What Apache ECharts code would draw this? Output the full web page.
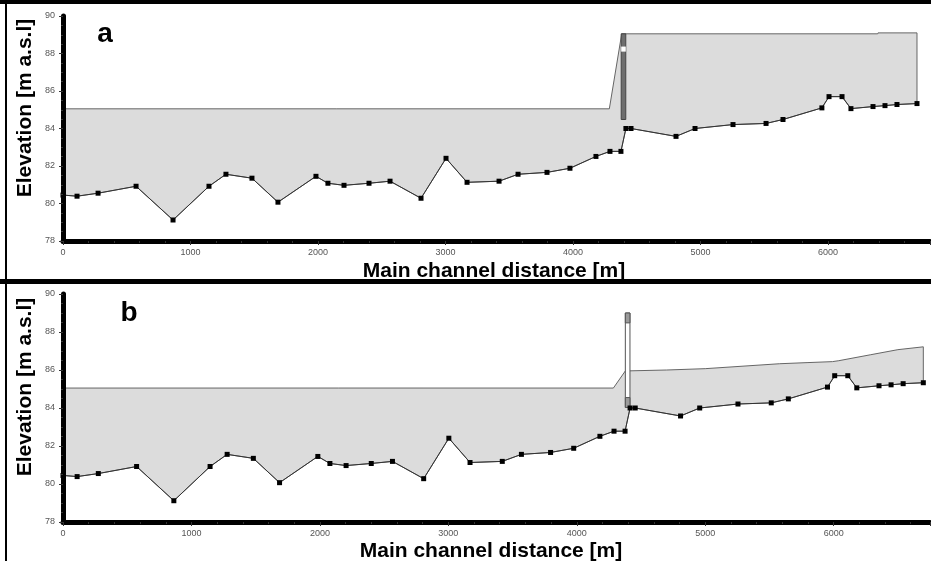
<!DOCTYPE html>
<html><head><meta charset="utf-8">
<script src="https://cdn.jsdelivr.net/npm/echarts@6/dist/echarts.min.js"></script>
<style>html,body{margin:0;padding:0;background:#fff}#c{width:931px;height:561px}</style>
</head><body><div id="c"></div>
<script>
// Bed profile (main channel thalweg)
const bedDist = [0, 110, 275, 573, 863, 1145, 1278, 1482, 1686, 1984, 2078, 2204, 2400, 2565, 2808, 3004, 3169, 3420, 3569, 3796, 3976, 4180, 4290, 4376, 4415, 4455, 4808, 4957, 5255, 5514, 5647, 5952, 6008, 6110, 6180, 6353, 6447, 6541, 6698];
const bedElev = [80.45, 80.39, 80.55, 80.92, 79.12, 80.92, 81.56, 81.35, 80.07, 81.45, 81.08, 80.97, 81.08, 81.19, 80.28, 82.41, 81.13, 81.19, 81.56, 81.66, 81.88, 82.51, 82.78, 82.78, 84.0, 84.0, 83.58, 84.0, 84.21, 84.27, 84.48, 85.1, 85.7, 85.7, 85.06, 85.17, 85.22, 85.28, 85.33];
// Water surface, panel a (gate closed)
const waterDistA = [0, 4285, 4382, 6390, 6392, 6698];
const waterElevA = [85.05, 85.05, 89.05, 89.05, 89.1, 89.1];
// Water surface, panel b (gate open)
const waterDistB = [0, 4285, 4378, 4700, 5000, 5580, 5800, 5990, 6040, 6285, 6500, 6698];
const waterElevB = [85.05, 85.05, 85.95, 86.0, 86.07, 86.33, 86.39, 86.44, 86.49, 86.8, 87.07, 87.22];
// Weir structure
const weirDist = [4378, 4414];
const gateA = [84.48, 89.05];
const slotA = [88.1, 88.37];
const weirB = [84.03, 89.0];
const capTopB = [88.48, 89.0];
const capBotB = [84.03, 84.55];
const xMax = [6800, 6750];
const yRange = [78, 90];

const chart = echarts.init(document.getElementById('c'), null, {renderer: 'canvas'});

function fillSeries(g, wd, we) {
  return {
    type: 'custom', xAxisIndex: g, yAxisIndex: g, data: [[wd[0], we[0]]], z: 1, silent: true, animation: false,
    renderItem: function (params, api) {
      const pts = [];
      for (let i = 0; i < wd.length; i++) pts.push(api.coord([wd[i], we[i]]));
      for (let i = bedDist.length - 1; i >= 0; i--) pts.push(api.coord([bedDist[i], bedElev[i]]));
      return {type: 'polygon', shape: {points: pts}, style: {fill: '#dcdcdc', stroke: '#666', lineWidth: 1}};
    }
  };
}
function rectFrom(api, x0, x1, y0, y1) {
  const a = api.coord([x0, y1]), b = api.coord([x1, y0]);
  return {x: a[0], y: a[1], width: b[0] - a[0], height: b[1] - a[1]};
}
function weirSeriesA() {
  return {
    type: 'custom', xAxisIndex: 0, yAxisIndex: 0, data: [[weirDist[0], gateA[1]]], z: 4, silent: true, animation: false,
    renderItem: function (params, api) {
      return {type: 'group', children: [
        {type: 'rect', shape: rectFrom(api, weirDist[0], weirDist[1], gateA[0], gateA[1]), style: {fill: '#6e6e6e', stroke: '#444', lineWidth: 1}},
        {type: 'rect', shape: rectFrom(api, weirDist[0], weirDist[1], slotA[0], slotA[1]), style: {fill: '#fff'}}
      ]};
    }
  };
}
function weirSeriesB() {
  return {
    type: 'custom', xAxisIndex: 1, yAxisIndex: 1, data: [[weirDist[0], weirB[1]]], z: 4, silent: true, animation: false,
    renderItem: function (params, api) {
      return {type: 'group', children: [
        {type: 'rect', shape: rectFrom(api, weirDist[0], weirDist[1], weirB[0], weirB[1]), style: {fill: '#fff', stroke: '#555', lineWidth: 1}},
        {type: 'rect', shape: rectFrom(api, weirDist[0], weirDist[1], capTopB[0], capTopB[1]), style: {fill: '#9a9a9a', stroke: '#555', lineWidth: 1}},
        {type: 'rect', shape: rectFrom(api, weirDist[0], weirDist[1], capBotB[0], capBotB[1]), style: {fill: '#9a9a9a', stroke: '#555', lineWidth: 1}}
      ]};
    }
  };
}
function bedSeries(g) {
  return {
    type: 'line', xAxisIndex: g, yAxisIndex: g, data: bedDist.map((d, i) => [d, bedElev[i]]),
    symbol: 'rect', symbolSize: 5, showAllSymbol: true, z: 5, silent: true, animation: false,
    lineStyle: {color: '#333', width: 1}, itemStyle: {color: '#000'}
  };
}
const tickFont = '"Liberation Sans Narrow", "Liberation Sans", Arial, sans-serif';
function xAx(g) {
  return {
    type: 'value', gridIndex: g, min: 0, max: xMax[g], interval: 1000, z: 10,
    axisLine: {show: true, onZero: false, lineStyle: {color: '#000', width: 5}},
    axisTick: {show: true, length: 4, lineStyle: {color: '#333', width: 1}},
    minorTick: {show: true, splitNumber: 5, length: 2, lineStyle: {color: '#333', width: 1}},
    splitLine: {show: false}, minorSplitLine: {show: false},
    axisLabel: {show: true, showMaxLabel: false, margin: 7, fontSize: 9, color: '#555', fontFamily: tickFont,
      formatter: function (v) { return String(v); }}
  };
}
function yAx(g) {
  return {
    type: 'value', gridIndex: g, min: yRange[0], max: yRange[1], interval: 2, z: 10,
    axisLine: {show: true, onZero: false, lineStyle: {color: '#000', width: 5}},
    axisTick: {show: true, length: 4, lineStyle: {color: '#333', width: 1}},
    minorTick: {show: true, splitNumber: 4, length: 2, lineStyle: {color: '#333', width: 1}},
    splitLine: {show: false}, minorSplitLine: {show: false},
    axisLabel: {show: true, margin: 8, fontSize: 9, color: '#555', fontFamily: tickFont,
      formatter: function (v) { return String(v); }}
  };
}
function txt(x, y, text, size, rot) {
  return {type: 'text', x: x, y: y, rotation: rot || 0, z: 100,
    style: {text: text, font: 'bold ' + size + 'px "Liberation Sans", Arial, sans-serif', fill: '#000',
      align: 'center', verticalAlign: 'middle', textAlign: 'center', textVerticalAlign: 'middle'}};
}
const option = {
  animation: false,
  backgroundColor: '#fff',
  grid: [
    {left: 63, top: 16, width: 867, height: 225, containLabel: false, outerBoundsMode: 'none'},
    {left: 63, top: 294, width: 867, height: 228, containLabel: false, outerBoundsMode: 'none'}
  ],
  xAxis: [xAx(0), xAx(1)],
  yAxis: [yAx(0), yAx(1)],
  series: [
    fillSeries(0, waterDistA, waterElevA), bedSeries(0), weirSeriesA(),
    fillSeries(1, waterDistB, waterElevB), bedSeries(1), weirSeriesB()
  ],
  graphic: [
    {type: 'rect', shape: {x: 0, y: 0, width: 931, height: 4}, style: {fill: '#000'}, z: 100},
    {type: 'rect', shape: {x: 5, y: 0, width: 2, height: 561}, style: {fill: '#000'}, z: 100},
    {type: 'rect', shape: {x: 0, y: 279, width: 931, height: 5}, style: {fill: '#000'}, z: 100},
    txt(25, 108, 'Elevation [m a.s.l]', 21, Math.PI / 2),
    txt(25, 387, 'Elevation [m a.s.l]', 21, Math.PI / 2),
    txt(494, 271, 'Main channel distance [m]', 21),
    txt(491, 551, 'Main channel distance [m]', 21),
    txt(105, 34, 'a', 28),
    txt(129, 313, 'b', 28)
  ]
};
chart.setOption(option);
</script></body></html>
